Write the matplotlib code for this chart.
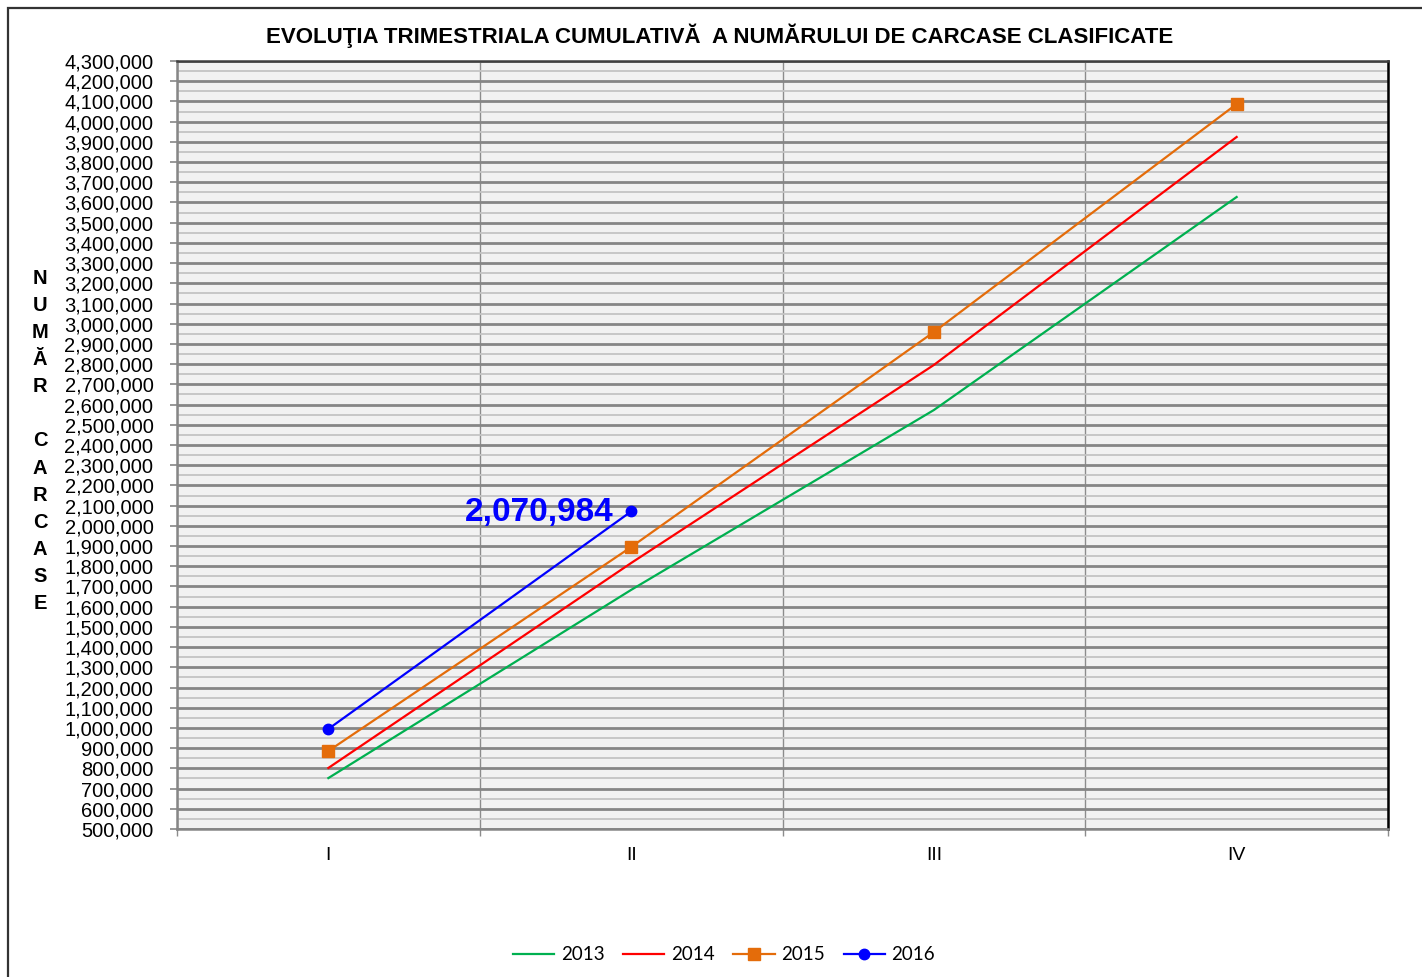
import matplotlib
matplotlib.use("Agg")
import matplotlib.pyplot as plt
from matplotlib.patches import Rectangle
from matplotlib.ticker import FuncFormatter, MultipleLocator, FixedLocator

plt.rcParams["font.family"] = ["Liberation Sans", "DejaVu Sans"]

quarters = ["I", "II", "III", "IV"]
s2013 = [752000, 1683000, 2573000, 3627000]
s2014 = [802000, 1816000, 2796000, 3924000]
s2015 = [886000, 1895000, 2959000, 4087000]
s2016 = [995000, 2070984]
label_2016 = "2,070,984"

W, H = 1422, 977
fig = plt.figure(figsize=(W / 100, H / 100), dpi=100)
ax = fig.add_axes([177 / W, 1 - 829 / H, (1388 - 177) / W, (829 - 61) / H])
ax.set_facecolor("#f2f2f2")

x = range(1, len(quarters) + 1)
ax.plot(x, s2013, color="#00b050", lw=1.6, label="2013", zorder=3)
ax.plot(x, s2014, color="#ff0000", lw=1.6, label="2014", zorder=3)
ax.plot(x, s2015, color="#e46c0a", lw=1.6, marker="s", ms=8, label="2015", zorder=4)
ax.plot(range(1, len(s2016) + 1), s2016, color="#0000ff", lw=1.6, marker="o", ms=7.5,
        label="2016", zorder=5)
ax.annotate(label_2016, (len(s2016), s2016[-1]), xytext=(-13, -1), textcoords="offset points",
            ha="right", va="center", color="#0000ff", fontsize=24, fontweight="bold", zorder=6)

ax.set_xlim(0.5, 4.5)
ax.set_ylim(500000, 4300000)
ax.yaxis.set_major_locator(MultipleLocator(100000))
ax.yaxis.set_minor_locator(MultipleLocator(50000))
ax.yaxis.set_major_formatter(FuncFormatter(lambda v, p: f"{int(round(v)):,}"))
ax.set_xticks(list(x))
ax.set_xticklabels(quarters)
ax.xaxis.set_minor_locator(FixedLocator([0.5, 1.5, 2.5, 3.5, 4.5]))

ax.grid(which="minor", axis="y", color="#c4c4c4", lw=1.3, zorder=1)
ax.grid(which="major", axis="y", color="#868686", lw=2.0, zorder=1)
ax.grid(which="minor", axis="x", color="#8c8c8c", lw=1.0, zorder=1)
ax.set_axisbelow(True)

ax.tick_params(axis="y", which="major", length=5, width=1.2, color="#868686",
               labelsize=14.5, pad=12)
ax.tick_params(axis="y", which="minor", length=0)
ax.tick_params(axis="x", which="major", length=0, labelsize=14, pad=13)
ax.tick_params(axis="x", which="minor", length=5, width=1, color="#8c8c8c")

for side in ("left", "bottom"):
    ax.spines[side].set_color("#868686")
    ax.spines[side].set_linewidth(1.8)
ax.spines["top"].set_color("#404040")
ax.spines["top"].set_linewidth(1.8)
ax.spines["right"].set_color("#000000")
ax.spines["right"].set_linewidth(1.8)

fig.text(720 / W, 1 - 36 / H,
         "EVOLUŢIA TRIMESTRIALA CUMULATIVĂ  A NUMĂRULUI DE CARCASE CLASIFICATE",
         ha="center", va="center", fontsize=16, fontweight="bold")

ylab = "\n".join(list("NUMĂR") + [""] + list("CARCASE"))
fig.text(40 / W, 1 - 441 / H, ylab, ha="center", va="center", fontsize=14.5,
         fontweight="bold", linespacing=1.54)

leg = fig.legend(loc="center", bbox_to_anchor=(724 / W, 1 - 955 / H), ncol=4, frameon=False,
                 handlelength=2.2, handletextpad=0.35, columnspacing=1.0,
                 prop={"family": "Lato", "size": 13.5})

fig.patches.append(Rectangle((8 / W, -0.1), 2, 1.1 - 8 / H, transform=fig.transFigure,
                             fill=False, ec="#333333", lw=1.6))

fig.savefig("out.png", dpi=100)
